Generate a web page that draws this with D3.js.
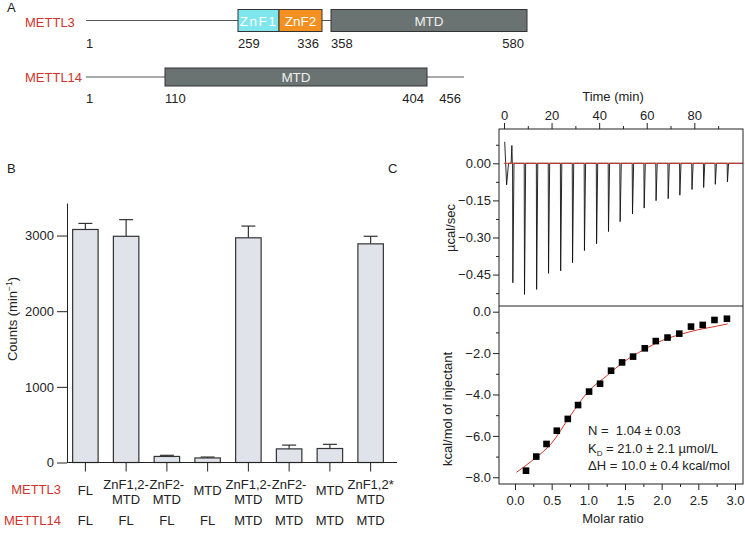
<!DOCTYPE html>
<html>
<head>
<meta charset="utf-8">
<script src="https://cdn.jsdelivr.net/npm/d3@7"></script>
<style>
  body { margin: 0; background: #fff; }
  svg { font-family: 'Liberation Sans', Arial, sans-serif; font-size: 13px; }
  text { fill: #222; }
</style>
</head>
<body>
<svg id="figure" width="745" height="544"></svg>
<script>
/****************************************************************
    Data
/****************************************************************/
// A: domain maps (residue numbers)
const mettl3Length = 580
const mettl3Domains = ['ZnF1', 'ZnF2', 'MTD']
const mettl3Start = [259, 298, 358]
const mettl3End = [298, 336, 580]
const mettl3Marks = [1, 259, 336, 358, 580]

const mettl14Length = 456
const mettl14Domains = ['MTD']
const mettl14Start = [110]
const mettl14End = [404]
const mettl14Marks = [1, 110, 404, 456]

// B: binding counts
const mettl3Constructs = [['FL'], ['ZnF1,2-', 'MTD'], ['ZnF2-', 'MTD'], ['MTD'],
  ['ZnF1,2-', 'MTD'], ['ZnF2-', 'MTD'], ['MTD'], ['ZnF1,2*', 'MTD']]
const mettl14Constructs = ['FL', 'FL', 'FL', 'FL', 'MTD', 'MTD', 'MTD', 'MTD']
const counts = [3080, 2990, 80, 60, 2970, 180, 185, 2890]
const countsErr = [80, 220, 15, 12, 155, 50, 55, 100]
const countTicks = [0, 1000, 2000, 3000]

// C: ITC raw trace (min, ucal/sec)
const preTime = [0.3, 1.1, 1.9, 3.0, 3.3, 3.5]
const preHeat = [0.087, -0.087, 0, 0, 0.072, 0]
const injTime = [3.6, 8.5, 13.6, 18.6, 23.7, 28.7, 33.7, 38.8, 43.8, 48.7,
  53.9, 58.8, 63.8, 68.9, 73.8, 78.9, 83.8, 88.7, 93.8]
const injPeak = [-0.483, -0.530, -0.510, -0.445, -0.435, -0.402, -0.353, -0.325, -0.276, -0.236,
  -0.205, -0.181, -0.151, -0.143, -0.129, -0.106, -0.098, -0.085, -0.075]
const timeTicks = [0, 20, 40, 60, 80]
const timeMinor = [10, 30, 50, 70, 90]
const powerTicks = [0, -0.15, -0.30, -0.45]
const powerMinor = [0.075, -0.075, -0.225, -0.375, -0.525]

// C: integrated heats and fit
const molarRatio = [0.15, 0.29, 0.43, 0.57, 0.72, 0.86, 1.01, 1.16, 1.31, 1.46,
  1.61, 1.77, 1.92, 2.08, 2.24, 2.40, 2.56, 2.72, 2.89]
const heat = [-7.68, -7.00, -6.39, -5.75, -5.18, -4.51, -3.86, -3.48, -2.85, -2.45,
  -2.17, -1.77, -1.42, -1.25, -1.06, -0.72, -0.64, -0.40, -0.34]
const fitRatio = [0.02, 0.25, 0.5, 0.75, 1.0, 1.25, 1.5, 1.75, 2.0, 2.25, 2.5, 2.75, 2.9]
const fitHeat = [-7.76, -7.15, -6.35, -5.05, -3.85, -3.1, -2.38, -1.85, -1.4, -1.1, -0.87, -0.7, -0.59]
const ratioTicks = [0, 0.5, 1.0, 1.5, 2.0, 2.5, 3.0]
const ratioMinor = [0.25, 0.75, 1.25, 1.75, 2.25, 2.75]
const heatTicks = [0, -2, -4, -6, -8]
const heatMinor = [-1, -3, -5, -7]

/****************************************************************
    Constant settings
/****************************************************************/
const settings = {
  ink: '#222',
  red: '#d0342c',
  domainFill: { ZnF1: '#7fe6ee', ZnF2: '#f39020', MTD: '#6a7372' },
  domainText: { ZnF1: '#fff', ZnF2: '#fff', MTD: '#eee' },
  barFill: '#e1e3eb',
  fitRed: '#d9352a'
}

const svg = d3.select('#figure')

function panelLabel(x, y, s) {
  svg.append('text').attr('x', x).attr('y', y).text(s)
}

// strip the default axis font so the svg font applies
function styleAxis(g) {
  g.attr('font-size', null).attr('font-family', null).style('color', settings.ink)
}

/****************************************************************
    A: domain schematics
/****************************************************************/
panelLabel(7, 12, 'A')

function drawProtein(p) {
  const g = svg.append('g')
  g.append('text').attr('x', 25).attr('y', p.labelY).style('fill', settings.red).text(p.name)
  g.append('line')
    .attr('x1', p.x(1)).attr('x2', p.x(p.length))
    .attr('y1', p.y).attr('y2', p.y)
    .attr('stroke', '#555').attr('stroke-width', 1)
  p.domains.forEach((d, i) => {
    g.append('rect')
      .attr('x', p.x(p.start[i])).attr('y', p.y - p.h / 2)
      .attr('width', p.x(p.end[i]) - p.x(p.start[i])).attr('height', p.h)
      .attr('fill', settings.domainFill[d]).attr('stroke', '#333').attr('stroke-width', 1)
    g.append('text')
      .attr('x', (p.x(p.start[i]) + p.x(p.end[i])) / 2).attr('y', p.y + 5)
      .attr('text-anchor', 'middle').style('fill', settings.domainText[d])
      .style('font-size', '13.5px')
      .style('letter-spacing', d === 'ZnF1' ? '1.5px' : null)
      .text(d)
  })
  p.marks.forEach(m => {
    const isStart = m === 1 || p.start.includes(m)
    g.append('text')
      .attr('x', p.x(m) + (isStart ? 0 : -3)).attr('y', p.numY)
      .attr('text-anchor', isStart ? 'start' : 'end')
      .text(m)
  })
}

drawProtein({
  name: 'METTL3', length: mettl3Length, domains: mettl3Domains,
  start: mettl3Start, end: mettl3End, marks: mettl3Marks,
  x: d3.scaleLinear().domain([1, 259, 298, 336, 358, 580]).range([86, 238, 279, 322, 331, 527]),
  y: 20.5, h: 22, labelY: 27, numY: 47.5
})
drawProtein({
  name: 'METTL14', length: mettl14Length, domains: mettl14Domains,
  start: mettl14Start, end: mettl14End, marks: mettl14Marks,
  x: d3.scaleLinear().domain([1, 110, 404, 456]).range([86, 165, 427, 464]),
  y: 77, h: 18, labelY: 81.5, numY: 103
})

/****************************************************************
    B: bar chart with error bars
/****************************************************************/
panelLabel(7, 173, 'B')

const bX = d3.scaleBand().domain(d3.range(counts.length))
  .range([65, 391]).paddingInner(0.375).paddingOuter(0.1875)
const bY = d3.scaleLinear().domain([0, 3430]).range([462.5, 203])

const bars = svg.append('g')
counts.forEach((c, i) => {
  const cx = bX(i) + bX.bandwidth() / 2
  bars.append('line')
    .attr('x1', cx).attr('x2', cx).attr('y1', bY(c)).attr('y2', bY(c + countsErr[i]))
    .attr('stroke', '#333').attr('stroke-width', 1.2)
  bars.append('line')
    .attr('x1', cx - 7).attr('x2', cx + 7)
    .attr('y1', bY(c + countsErr[i])).attr('y2', bY(c + countsErr[i]))
    .attr('stroke', '#333').attr('stroke-width', 1.2)
  bars.append('rect')
    .attr('x', bX(i)).attr('y', bY(c))
    .attr('width', bX.bandwidth()).attr('height', bY(0) - bY(c))
    .attr('fill', settings.barFill).attr('stroke', '#333').attr('stroke-width', 1.2)
})

const bAxis = svg.append('g').attr('transform', 'translate(67,0)')
  .call(d3.axisLeft(bY).tickValues(countTicks).tickFormat(d3.format('d'))
    .tickSize(10).tickSizeOuter(0).tickPadding(3))
styleAxis(bAxis)

svg.append('line')
  .attr('x1', 67).attr('x2', 397).attr('y1', bY(0)).attr('y2', bY(0))
  .attr('stroke', settings.ink).attr('stroke-width', 1)

svg.append('text')
  .attr('transform', 'translate(17,319) rotate(-90)')
  .attr('text-anchor', 'middle')
  .call(t => {
    t.append('tspan').text('Counts (min')
    t.append('tspan').attr('dy', -5).style('font-size', '8.5px').text('−1')
    t.append('tspan').attr('dy', 5).text(')')
  })

// category labels
counts.forEach((c, i) => {
  const cx = bX(i) + bX.bandwidth() / 2
  svg.append('line').attr('x1', cx).attr('x2', cx).attr('y1', bY(0)).attr('y2', bY(0) + 9)
    .attr('stroke', settings.ink)
  const lines = mettl3Constructs[i]
  lines.forEach((s, j) => {
    svg.append('text').attr('x', cx)
      .attr('y', lines.length === 1 ? 495 : 489 + j * 14.5)
      .attr('text-anchor', 'middle').text(s)
  })
  svg.append('text').attr('x', cx).attr('y', 524.5).attr('text-anchor', 'middle').text(mettl14Constructs[i])
})
svg.append('text').attr('x', 61).attr('y', 493.5).attr('text-anchor', 'end')
  .style('fill', settings.red).text('METTL3')
svg.append('text').attr('x', 61).attr('y', 524.5).attr('text-anchor', 'end')
  .style('fill', settings.red).text('METTL14')

/****************************************************************
    C: ITC thermogram and isotherm
/****************************************************************/
panelLabel(388, 173, 'C')

const tX = d3.scaleLinear().domain([-2.1, 100.46]).range([499, 743])
const tY = d3.scaleLinear().domain([-0.577, 0.1387]).range([306, 129])
const rX = d3.scaleLinear().domain([-0.218, 3.109]).range([499, 743])
const hY = d3.scaleLinear().domain([-8.324, 0.275]).range([484, 306])

// raw trace: pre-injection wiggle, then one sharp spike per injection
let trace = preTime.map((t, i) => [t, preHeat[i]])
injTime.forEach((t, i) => {
  trace.push([t, 0], [t + 0.12, injPeak[i]], [t + 0.6, 0])
})
trace.push([100.4, 0])

svg.append('path')
  .attr('d', d3.line().x(d => tX(d[0])).y(d => tY(d[1]))(trace))
  .attr('fill', 'none').attr('stroke', '#111').attr('stroke-width', 0.9)

svg.append('line')
  .attr('x1', tX(0)).attr('x2', tX(100.4)).attr('y1', tY(0)).attr('y2', tY(0))
  .attr('stroke', settings.red).attr('stroke-width', 1)

// isotherm
svg.append('path')
  .attr('d', d3.line().x((d, i) => rX(d)).y((d, i) => hY(fitHeat[i])).curve(d3.curveMonotoneX)(fitRatio))
  .attr('fill', 'none').attr('stroke', settings.fitRed).attr('stroke-width', 1)

svg.append('g').selectAll('rect').data(molarRatio).join('rect')
  .attr('x', d => rX(d) - 3.3).attr('y', (d, i) => hY(heat[i]) - 3.3)
  .attr('width', 6.6).attr('height', 6.6).attr('fill', '#000')

// frame
svg.append('rect').attr('x', 499).attr('y', 129).attr('width', 244).attr('height', 355)
  .attr('fill', 'none').attr('stroke', settings.ink).attr('stroke-width', 1)
svg.append('line').attr('x1', 499).attr('x2', 743).attr('y1', 306).attr('y2', 306)
  .attr('stroke', settings.ink).attr('stroke-width', 1)

// axes
function axis(gen, tr, ticks, minor, fmt, pad) {
  const g = svg.append('g').attr('transform', tr)
    .call(gen.tickValues(ticks).tickSize(6).tickSizeOuter(0).tickPadding(pad).tickFormat(fmt))
  g.select('.domain').remove()
  styleAxis(g)
  const m = svg.append('g').attr('transform', tr)
    .call(gen.tickValues(minor).tickSize(3).tickFormat(''))
  m.select('.domain').remove()
  styleAxis(m)
}
axis(d3.axisTop(tX), 'translate(0,129)', timeTicks, timeMinor, d3.format('d'), 3)
axis(d3.axisLeft(tY), 'translate(499,0)', powerTicks, powerMinor, d3.format('.2f'), 2)
axis(d3.axisLeft(hY), 'translate(499,0)', heatTicks, heatMinor, d3.format('.1f'), 2)
axis(d3.axisBottom(rX), 'translate(0,484)', ratioTicks, ratioMinor, d3.format('.1f'), 6)

svg.append('text').attr('x', 613).attr('y', 101).attr('text-anchor', 'middle').text('Time (min)')
svg.append('text').attr('x', 613).attr('y', 523).attr('text-anchor', 'middle').text('Molar ratio')
svg.append('text').attr('transform', 'translate(455,228) rotate(-90)')
  .attr('text-anchor', 'middle').text('µcal/sec')
svg.append('text').attr('transform', 'translate(452,409) rotate(-90)')
  .attr('text-anchor', 'middle').text('kcal/mol of injectant')

// fit parameters
const fit = svg.append('g')
fit.append('text').attr('x', 588).attr('y', 435).style('white-space', 'pre').text('N =  1.04 ± 0.03')
fit.append('text').attr('x', 588).attr('y', 453.3).style('white-space', 'pre').call(t => {
  t.append('tspan').text('K')
  t.append('tspan').attr('dy', 3).style('font-size', '8px').text('D')
  t.append('tspan').attr('dy', -3).text(' = 21.0 ± 2.1 µmol/L')
})
fit.append('text').attr('x', 588).attr('y', 470.3).text('ΔH = 10.0 ± 0.4 kcal/mol')
</script>
</body>
</html>
